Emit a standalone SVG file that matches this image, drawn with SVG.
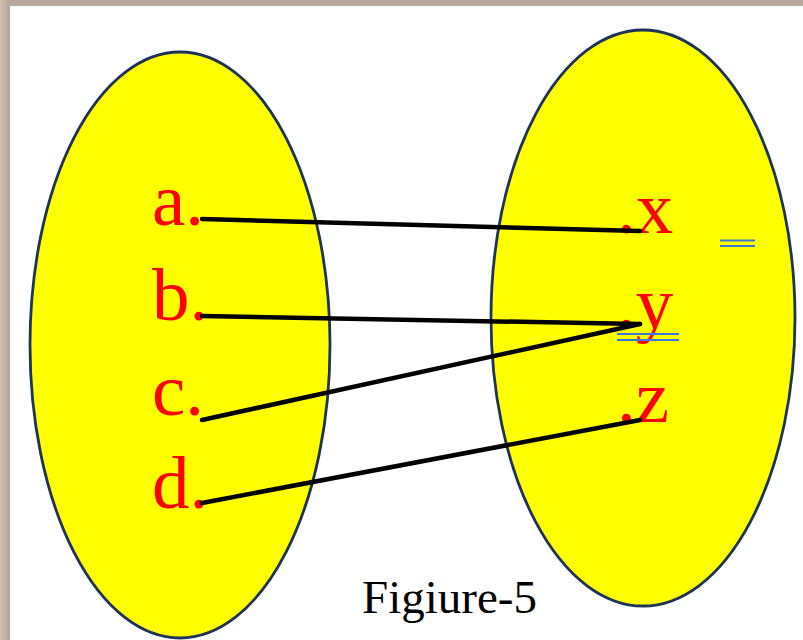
<svg xmlns="http://www.w3.org/2000/svg" width="803" height="640" viewBox="0 0 803 640">
<defs>
<linearGradient id="lb" x1="0" y1="0" x2="1" y2="0">
<stop offset="0" stop-color="#d2c0b5"/>
<stop offset="1" stop-color="#b5a297"/>
</linearGradient>
</defs>
<style>
.set{fill:#ffff00;stroke:#1f3359;stroke-width:2.8}
.lbl{font-family:"Liberation Serif","Times New Roman",serif;font-size:75px;fill:#ff0000}
.cap{font-family:"Liberation Serif","Times New Roman",serif;font-size:47px;fill:#000}
.con line{stroke:#000;stroke-width:4.5;stroke-linecap:round}
.dbl line{stroke:#3d78d6;stroke-width:2}
</style>
<rect x="0" y="0" width="803" height="640" fill="#fff"/>
<rect x="0" y="0" width="803" height="6" fill="#b8a79c"/>
<rect x="0" y="0" width="10" height="640" fill="url(#lb)"/>
<g id="setA"><ellipse class="set" cx="180" cy="345" rx="150" ry="293"/></g>
<g id="setB"><ellipse class="set" cx="643" cy="318" rx="152" ry="288"/></g>
<g id="labelA"><text class="lbl" x="152" y="225">a.</text></g>
<g id="labelB"><text class="lbl" x="152" y="320">b.</text></g>
<g id="labelC"><text class="lbl" x="152" y="415">c.</text></g>
<g id="labelD"><text class="lbl" x="152" y="508">d.</text></g>
<g id="labelX"><text class="lbl" x="617" y="233">.x</text></g>
<g id="labelY"><text class="lbl" x="617" y="328">.y</text></g>
<g id="labelZ"><text class="lbl" x="617" y="422">.z</text></g>
<g id="connectors" class="con">
<line x1="202" y1="219" x2="640" y2="231"/>
<line x1="202" y1="316" x2="640" y2="324"/>
<line x1="202" y1="420" x2="640" y2="324"/>
<line x1="202" y1="503" x2="640" y2="420"/>
</g>
<g id="marks" class="dbl">
<line x1="720" y1="240.5" x2="755" y2="240.5"/>
<line x1="720" y1="246" x2="755" y2="246"/>
<line x1="617" y1="334" x2="679" y2="334"/>
<line x1="617" y1="340" x2="679" y2="340"/>
</g>
<g id="caption"><text class="cap" x="362" y="613">Figiure-5</text></g>
</svg>
